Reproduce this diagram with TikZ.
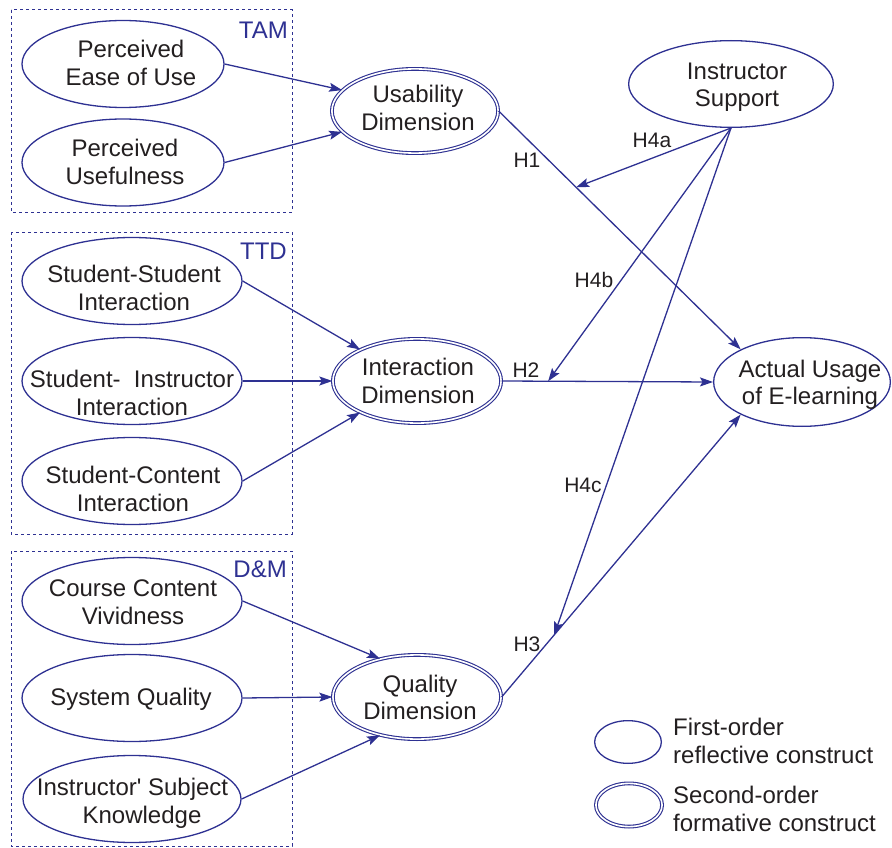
\documentclass[tikz,border=0pt]{standalone}
\usepackage{fontspec}
\setmainfont{Liberation Sans}[Ligatures=TeXOff]
\usetikzlibrary{shapes.geometric,arrows.meta}
\definecolor{cblue}{HTML}{2E3192}
\definecolor{ctext}{HTML}{231F20}
\begin{document}
\begin{tikzpicture}[x=1pt,y=-1pt,
  fo/.style={ellipse,draw=cblue,line width=1.3pt,inner sep=0pt},
  so/.style={ellipse,draw=cblue,double=white,double distance=1.6pt,line width=1.1pt,inner sep=0pt},
  txt/.style={align=center,text=ctext,font=\fontsize{24}{27.5}\selectfont,inner sep=0pt,text depth=0pt},
  ltxt/.style={align=left,anchor=west,text=ctext,font=\fontsize{24}{27.5}\selectfont,inner sep=0pt,text depth=0pt},
  hlab/.style={text=ctext,font=\fontsize{21}{24}\selectfont,inner sep=0pt,text depth=0pt},
  glab/.style={text=cblue,font=\fontsize{24}{27}\selectfont,inner sep=0pt,anchor=east,text depth=0pt},
  grp/.style={draw=cblue,line width=1pt,dash pattern=on 3pt off 3pt},
  arr/.style={draw=cblue,line width=1.3pt,-{Stealth[length=13pt,width=9pt,inset=2.5pt]}},
]
\useasboundingbox (0,0) rectangle (892,848);

% group frames
\draw[grp] (11,10) rectangle (292,212);
\draw[grp] (11,232) rectangle (292,534);
\draw[grp] (11,551) rectangle (292,846);
\node[glab] (tam) at (288,30) {TAM};
\node[glab] (ttd) at (287,251) {TTD};
\node[glab] (dm) at (287,569) {D\&M};

% first-order constructs
\node[fo,minimum width=202pt,minimum height=87pt] (peou) at (123,64) {};
\node[txt] (tpeou) at (131,63) {Perceived\\Ease of Use};
\node[fo,minimum width=202pt,minimum height=87pt] (pu) at (123,162.5) {};
\node[txt] (tpu) at (125,162) {Perceived\\Usefulness};

\node[fo,minimum width=220pt,minimum height=87pt] (ssi) at (132,281) {};
\node[txt] (tssi) at (134,288) {Student-Student\\Interaction};
\node[fo,minimum width=220pt,minimum height=87pt] (sii) at (132,381) {};
\node[txt] (tsii) at (132,393) {Student-\ \ Instructor\\Interaction};
\node[fo,minimum width=220pt,minimum height=87pt] (sci) at (132,481) {};
\node[txt] (tsci) at (133,489) {Student-Content\\Interaction};

\node[fo,minimum width=220pt,minimum height=87pt] (ccv) at (132,601) {};
\node[txt] (tccv) at (133,602) {Course Content\\Vividness};
\node[fo,minimum width=220pt,minimum height=87pt] (sq) at (132,698) {};
\node[txt] (tsq) at (131,697) {System Quality};
\node[fo,minimum width=218pt,minimum height=87pt] (isk) at (132,799) {};
\node[txt] (tisk) at (132.5,801) {Instructor' Subject\\\hspace*{19pt}Knowledge};

\node[fo,minimum width=204.7pt,minimum height=86.7pt] (is) at (731,84) {};
\node[txt] (tis) at (737,84.5) {Instructor\\Support};
\node[fo,minimum width=176.7pt,minimum height=88.7pt] (actual) at (802,382) {};
\node[txt] (tactual) at (810,382.5) {Actual Usage\\of E-learning};

% second-order constructs
\node[so,minimum width=166.2pt,minimum height=84.2pt] (usab) at (415,111) {};
\node[txt] (tusab) at (418,108) {Usability\\Dimension};
\node[so,minimum width=168.2pt,minimum height=84.2pt] (inter) at (417,381) {};
\node[txt] (tinter) at (418,381) {Interaction\\Dimension};
\node[so,minimum width=168.2pt,minimum height=84.2pt] (quality) at (417,697) {};
\node[txt] (tquality) at (420,697.5) {Quality\\Dimension};

% legend
\node[fo,minimum width=66.7pt,minimum height=42.7pt] (lfo) at (628,742) {};
\node[ltxt] (tlfo) at (673,741) {First-order\\reflective construct};
\node[so,minimum width=66.2pt,minimum height=43.2pt] (lso) at (629,805) {};
\node[ltxt] (tlso) at (673,809) {Second-order\\formative construct};

% measurement arrows
\draw[arr] (peou.east) -- (usab.164);
\draw[arr] (pu.east) -- (usab.196);
\draw[arr] (ssi.east) -- (inter.151);
\draw[arr] (sii.east) -- (inter.west);
\draw[arr] (sci.east) -- (inter.209);
\draw[arr] (ccv.east) -- (quality.134);
\draw[arr] (sq.east) -- (quality.west);
\draw[arr] (isk.east) -- (quality.226);

% structural arrows
\draw[arr] (usab.east) -- coordinate[pos=0.32] (h1p) (actual.152);
\draw[arr] (inter.east) -- coordinate[pos=0.22] (h2p) (actual.west);
\draw[arr] (quality.east) -- coordinate[pos=0.22] (h3p) (actual.208);
\draw[arr] (is.south) -- (h1p);
\draw[arr] (is.south) -- (h2p);
\draw[arr] (is.south) -- (h3p);

% hypothesis labels
\node[hlab] (lh1) at (527,160) {H1};
\node[hlab] (lh2) at (526,370) {H2};
\node[hlab] (lh3) at (527,644) {H3};
\node[hlab] (lh4a) at (652,140) {H4a};
\node[hlab] (lh4b) at (594,280) {H4b};
\node[hlab] (lh4c) at (583,485) {H4c};
\end{tikzpicture}
\end{document}
